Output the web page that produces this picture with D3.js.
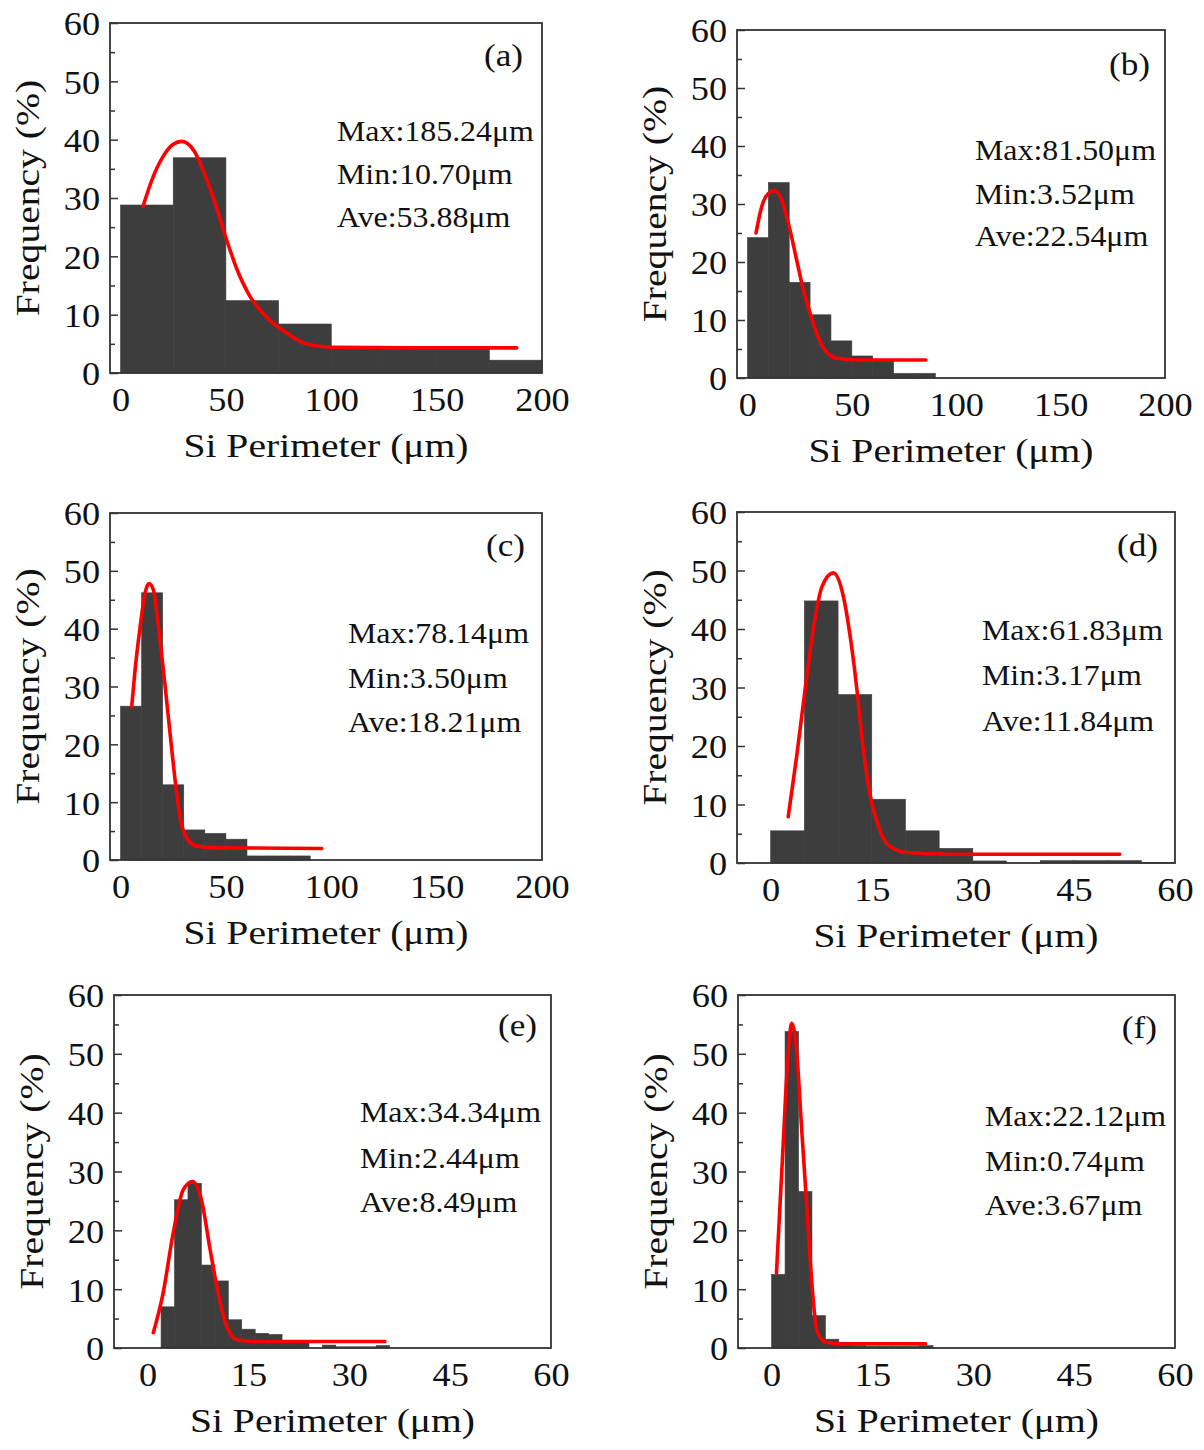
<!DOCTYPE html>
<html>
<head>
<meta charset="utf-8">
<script src="https://cdn.jsdelivr.net/npm/d3@7"></script>
<style>
  body { margin: 0; background: #fff; }
  text { font-family: "Liberation Serif", "Times New Roman", serif; fill: #111; }
</style>
</head>
<body>
<svg id="chart" width="1204" height="1450"></svg>
<script>
// tick values
var xTicksLarge = [0, 50, 100, 150, 200]
var xTicksSmall = [0, 15, 30, 45, 60]
var yTicks = [0, 10, 20, 30, 40, 50, 60]
var yMinorTicks = [5, 15, 25, 35, 45, 55]

// histogram bin edges and frequencies (%)
var edgesA = [0, 25, 50, 75, 100, 125, 150, 175, 200]
var freqA = [28.8, 36.9, 12.4, 8.4, 4.3, 4.3, 4.3, 2.2]
var edgesB = [0, 10, 20, 30, 40, 50, 60, 70, 80, 90]
var freqB = [24.2, 33.7, 16.5, 10.9, 6.4, 3.8, 3.2, 0.8, 0.8]
var edgesC = [0, 10, 20, 30, 40, 50, 60, 70, 80, 90]
var freqC = [26.6, 46.2, 13.0, 5.2, 4.6, 3.6, 0.7, 0.7, 0.7]
var edgesD = [0, 5, 10, 15, 20, 25, 30, 35, 40, 45, 50, 55, 60]
var freqD = [5.5, 44.8, 28.8, 10.9, 5.5, 2.5, 0.35, 0, 0.4, 0.4, 0.4, 0.12]
var edgesE = [2, 4, 6, 8, 10, 12, 14, 16, 18, 20, 22, 24, 26, 28, 30, 32, 34, 36]
var freqE = [7.0, 25.2, 28.0, 14.1, 11.4, 4.8, 3.2, 2.5, 2.3, 1.2, 1.2, 0, 0.5, 0.2, 0.2, 0.2, 0.4]
var edgesF = [0, 2, 4, 6, 8, 10, 12, 14, 16, 18, 20, 22, 24]
var freqF = [12.5, 53.8, 26.6, 5.5, 1.5, 0.6, 0.4, 0.3, 0.3, 0.3, 0.3, 0.4]

// fitted curves [perimeter, frequency]
var fitA = [[10.7, 28.6], [15, 33.2], [20, 37.0], [25, 39.2], [29, 39.7], [35, 38.0], [40, 34.0], [45, 29.0],
  [50, 23.2], [55, 18.0], [61.5, 13.1], [69, 9.7], [79, 6.8], [88, 5.0], [101, 4.4], [140, 4.3], [188, 4.3]]
var fitB = [[4.1, 25.0], [6.8, 29.5], [10, 31.8], [12.9, 32.3], [16.4, 30.7], [20.4, 25.5], [23.6, 20.3],
  [26.8, 15.2], [30, 11.2], [33.2, 7.7], [37.2, 4.8], [42.8, 3.4], [52.4, 3.1], [85.5, 3.1]]
var fitC = [[5.3, 26.5], [6.9, 32.9], [9.3, 40.3], [11.6, 46.1], [13.5, 47.8], [15.6, 46.7], [18, 40.3],
  [21, 30.6], [23.5, 21.9], [25.9, 13.8], [28.2, 7.5], [31.4, 3.8], [36.2, 2.4], [45.7, 2.1], [95.5, 2.0]]
var fitD = [[2.6, 7.9], [3.85, 18.2], [5.1, 29.6], [6.3, 39.8], [7.6, 47.2], [9.3, 49.6], [10.8, 45.5],
  [11.8, 38.7], [12.8, 29.6], [13.7, 19.9], [14.7, 11.9], [16, 6.2], [17.7, 2.8], [20.2, 1.8], [26.6, 1.5], [51.8, 1.5]]
var fitE = [[0.85, 2.6], [2.3, 9.3], [3.8, 19.5], [5.3, 26.9], [6.7, 28.3], [8, 25.2], [9.3, 16.7],
  [10.5, 9.3], [11.8, 3.6], [13.3, 1.4], [16, 1.1], [35.3, 1.1]]
var fitF = [[0.72, 12.7], [1.7, 34.2], [2.4, 49.0], [3.0, 55.2], [3.7, 50.7], [4.45, 37.6], [5.2, 24.6],
  [5.95, 11.6], [6.7, 3.1], [7.95, 1.0], [10, 0.7], [22.9, 0.7]]

var statsA = ["Max:185.24\u03bcm", "Min:10.70\u03bcm", "Ave:53.88\u03bcm"]
var statsB = ["Max:81.50\u03bcm", "Min:3.52\u03bcm", "Ave:22.54\u03bcm"]
var statsC = ["Max:78.14\u03bcm", "Min:3.50\u03bcm", "Ave:18.21\u03bcm"]
var statsD = ["Max:61.83\u03bcm", "Min:3.17\u03bcm", "Ave:11.84\u03bcm"]
var statsE = ["Max:34.34\u03bcm", "Min:2.44\u03bcm", "Ave:8.49\u03bcm"]
var statsF = ["Max:22.12\u03bcm", "Min:0.74\u03bcm", "Ave:3.67\u03bcm"]

var xTitle = "Si Perimeter (\u03bcm)"
var yTitle = "Frequency (%)"

// layout of the six panels
var panels = [
  {label: "(a)", left: 110, top: 23, right: 542, bottom: 373, xmax: 200, ticks: xTicksLarge, edges: edgesA, freq: freqA, fit: fitA, stats: statsA, sx: 337, sy: [141, 184, 227], lx: 523, ly: 66},
  {label: "(b)", left: 737, top: 30, right: 1165, bottom: 378, xmax: 200, ticks: xTicksLarge, edges: edgesB, freq: freqB, fit: fitB, stats: statsB, sx: 975, sy: [160, 204, 246], lx: 1150, ly: 75},
  {label: "(c)", left: 110, top: 513, right: 542, bottom: 860, xmax: 200, ticks: xTicksLarge, edges: edgesC, freq: freqC, fit: fitC, stats: statsC, sx: 348, sy: [643, 688, 732], lx: 525, ly: 556},
  {label: "(d)", left: 737, top: 512, right: 1175, bottom: 863, xmax: 60, ticks: xTicksSmall, edges: edgesD, freq: freqD, fit: fitD, stats: statsD, sx: 982, sy: [640, 685, 731], lx: 1158, ly: 556},
  {label: "(e)", left: 114, top: 995, right: 551, bottom: 1348, xmax: 60, ticks: xTicksSmall, edges: edgesE, freq: freqE, fit: fitE, stats: statsE, sx: 360, sy: [1122, 1168, 1212], lx: 537, ly: 1036},
  {label: "(f)", left: 738, top: 995, right: 1175, bottom: 1348, xmax: 60, ticks: xTicksSmall, edges: edgesF, freq: freqF, fit: fitF, stats: statsF, sx: 985, sy: [1126, 1171, 1215], lx: 1157, ly: 1038}
]

var svg = d3.select("#chart")
svg.append("rect").attr("width", 1204).attr("height", 1450).attr("fill", "#fff")

panels.forEach(function(p) {
  var x = d3.scaleLinear().domain([-5, p.xmax]).range([p.left, p.right])
  var y = d3.scaleLinear().domain([0, 60]).range([p.bottom, p.top])
  var g = svg.append("g")

  // bars
  g.append("g").selectAll("rect")
    .data(p.freq)
    .join("rect")
    .attr("x", function(d, i) { return x(p.edges[i]) })
    .attr("width", function(d, i) { return x(p.edges[i + 1]) - x(p.edges[i]) })
    .attr("y", function(d) { return y(d) })
    .attr("height", function(d) { return y(0) - y(d) })
    .attr("fill", "#3d3d3d")
    .attr("stroke", function(d) { return d > 0 ? "#3d3d3d" : "none" })
    .attr("stroke-width", 0.6)

  // fitted curve
  var line = d3.line()
    .x(function(d) { return x(d[0]) })
    .y(function(d) { return y(d[1]) })
    .curve(d3.curveMonotoneX)
  g.append("path")
    .datum(p.fit)
    .attr("d", line)
    .attr("fill", "none")
    .attr("stroke", "#ff0000")
    .attr("stroke-width", 3.6)
    .attr("stroke-linecap", "round")

  // frame
  g.append("rect")
    .attr("x", p.left).attr("y", p.top)
    .attr("width", p.right - p.left).attr("height", p.bottom - p.top)
    .attr("fill", "none").attr("stroke", "#333").attr("stroke-width", 1.8)

  // y axis, ticks pointing inward
  var yAxis = g.append("g")
    .attr("transform", "translate(" + p.left + ",0)")
    .call(d3.axisLeft(y).tickValues(yTicks).tickSize(-8).tickPadding(9))
  yAxis.select(".domain").remove()
  yAxis.selectAll("line").attr("stroke", "#333").attr("stroke-width", 1.5)
  yAxis.selectAll("text")
    .attr("font-size", 33)
    .attr("dy", "0.36em")
    .attr("fill", "#111")
    .attr("transform", "scale(1.1,1)")

  var yMinor = g.append("g")
    .attr("transform", "translate(" + p.left + ",0)")
    .call(d3.axisLeft(y).tickValues(yMinorTicks).tickSize(-5).tickFormat(""))
  yMinor.select(".domain").remove()
  yMinor.selectAll("line").attr("stroke", "#333").attr("stroke-width", 1.5)

  // x axis labels
  var xAxis = g.append("g")
    .attr("transform", "translate(0," + p.bottom + ")")
    .call(d3.axisBottom(x).tickValues(p.ticks).tickSize(0))
  xAxis.select(".domain").remove()
  xAxis.selectAll("text")
    .attr("font-size", 33)
    .attr("y", 38)
    .attr("dy", 0)
    .attr("fill", "#111")
    .attr("transform", "scale(1.1,1)")

  // axis titles
  g.append("text")
    .attr("transform", "translate(" + ((p.left + p.right) / 2) + "," + (p.bottom + 84) + ") scale(1.2,1)")
    .attr("text-anchor", "middle")
    .attr("font-size", 33)
    .text(xTitle)
  g.append("text")
    .attr("transform", "translate(" + (p.left - 71) + "," + ((p.top + p.bottom) / 2) + ") rotate(-90) scale(1.2,1)")
    .attr("text-anchor", "middle")
    .attr("font-size", 33)
    .text(yTitle)

  // panel label
  g.append("text")
    .attr("transform", "translate(" + p.lx + "," + p.ly + ") scale(1.1,1)")
    .attr("text-anchor", "end")
    .attr("font-size", 32)
    .text(p.label)

  // statistics
  p.stats.forEach(function(s, i) {
    g.append("text")
      .attr("transform", "translate(" + p.sx + "," + p.sy[i] + ") scale(1.1,1)")
      .attr("font-size", 29)
      .text(s)
  })
})
</script>
</body>
</html>
